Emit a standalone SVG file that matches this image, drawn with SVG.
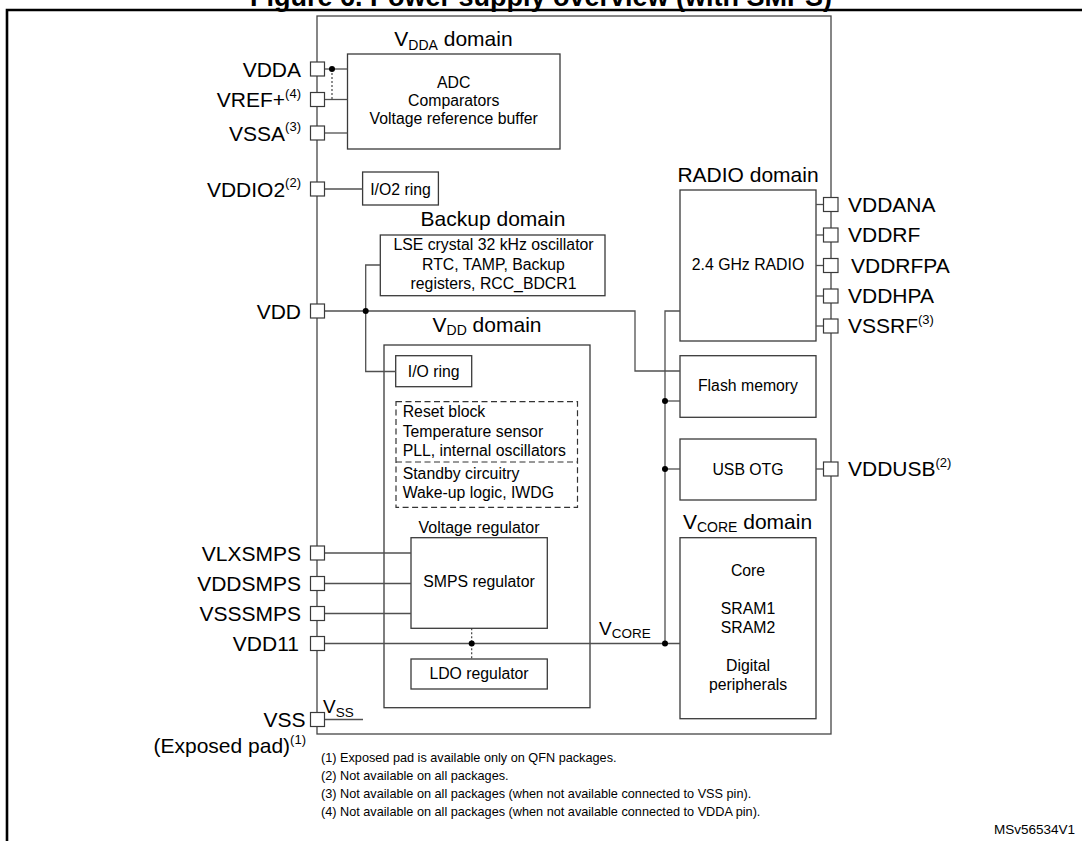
<svg xmlns="http://www.w3.org/2000/svg" width="1082" height="841" viewBox="0 0 1082 841">
<style>
text{font-family:"Liberation Sans",Arial,sans-serif;fill:#000}
.lbl{font-size:21px}
.ttl{font-size:21px}
.t{font-size:15.8px}
.sup{font-size:13px}
.sub{font-size:14px}
.fn{font-size:12.7px}
.c{text-anchor:middle}
.e{text-anchor:end}
.box{fill:none;stroke:#3a3a3a;stroke-width:1.3}
.chip{fill:none;stroke:#454545;stroke-width:1.3}
.pin{fill:#fff;stroke:#3a3a3a;stroke-width:1.2}
.wire{fill:none;stroke:#505050;stroke-width:1.3}
.dotted{fill:none;stroke:#333;stroke-width:1.1;stroke-dasharray:2 2}
.dashed{fill:none;stroke:#333;stroke-width:1.2;stroke-dasharray:6 3.5}
.dot{fill:#000}
.frame{fill:none;stroke:#000;stroke-width:2.6}
</style>

<text x="541" y="6" class="c" style="font-size:27px;font-weight:bold">Figure 6. Power supply overview (with SMPS)</text>
<path class="frame" d="M7,841 V10 H1082"/>

<g id="chip"><rect class="chip" x="317" y="16" width="514" height="718"/></g>

<g id="vdda-domain">
<text x="453.5" y="46" class="ttl c">V<tspan class="sub" dy="3.5">DDA</tspan><tspan dy="-3.5"> domain</tspan></text>
<rect class="box" x="347.5" y="54" width="212.5" height="95"/>
<text x="453.7" y="88" class="t c">ADC</text>
<text x="453.7" y="106" class="t c">Comparators</text>
<text x="453.7" y="124" class="t c">Voltage reference buffer</text>
</g>

<g id="io2-ring">
<rect class="box" x="362.6" y="172" width="75.8" height="33"/>
<text x="400.5" y="195" class="t c">I/O2 ring</text>
</g>

<g id="backup-domain">
<text x="493" y="226" class="ttl c">Backup domain</text>
<rect class="box" x="380.3" y="235" width="224.7" height="60.7"/>
<text x="493.5" y="250" class="t c">LSE crystal 32 kHz oscillator</text>
<text x="493.5" y="269.5" class="t c">RTC, TAMP, Backup</text>
<text x="493.5" y="289" class="t c">registers, RCC_BDCR1</text>
</g>

<g id="vdd-domain">
<text x="487" y="331.7" class="ttl c">V<tspan class="sub" dy="3.5">DD</tspan><tspan dy="-3.5"> domain</tspan></text>
<rect class="box" x="384" y="345" width="206" height="362.7"/>
</g>

<g id="io-ring">
<rect class="box" x="395.7" y="355.7" width="76" height="31"/>
<text x="433.7" y="377" class="t c">I/O ring</text>
</g>

<g id="always-on-block">
<rect class="dashed" x="396" y="401.7" width="181.5" height="105.6"/>
<line class="dashed" x1="396" y1="462" x2="577.5" y2="462"/>
<text x="402.7" y="417" class="t">Reset block</text>
<text x="402.7" y="437" class="t">Temperature sensor</text>
<text x="402.7" y="456" class="t">PLL, internal oscillators</text>
<text x="402.7" y="479" class="t">Standby circuitry</text>
<text x="402.7" y="498" class="t">Wake-up logic, IWDG</text>
</g>

<g id="smps-regulator">
<text x="479" y="532.7" class="c" style="font-size:16px">Voltage regulator</text>
<rect class="box" x="411" y="537.7" width="136.3" height="90.6"/>
<text x="479" y="587" class="t c">SMPS regulator</text>
</g>

<g id="ldo-regulator">
<rect class="box" x="411" y="659" width="136.3" height="30"/>
<text x="479" y="679" class="t c">LDO regulator</text>
</g>

<g id="radio-domain">
<text x="748" y="181.7" class="ttl c">RADIO domain</text>
<rect class="box" x="680" y="190" width="136" height="151"/>
<text x="748" y="270" class="t c">2.4 GHz RADIO</text>
</g>

<g id="flash-memory">
<rect class="box" x="680" y="355.7" width="136" height="61.6"/>
<text x="748" y="391" class="t c">Flash memory</text>
</g>

<g id="usb-otg">
<rect class="box" x="680" y="439" width="136" height="61"/>
<text x="748" y="475" class="t c">USB OTG</text>
</g>

<g id="vcore-domain">
<text x="747.5" y="529.3" class="ttl c">V<tspan class="sub" dy="3">CORE</tspan><tspan dy="-3"> domain</tspan></text>
<rect class="box" x="680" y="537.7" width="136" height="181"/>
<text x="748" y="576" class="t c">Core</text>
<text x="748" y="614" class="t c">SRAM1</text>
<text x="748" y="632.7" class="t c">SRAM2</text>
<text x="748" y="671" class="t c">Digital</text>
<text x="748" y="689.5" class="t c">peripherals</text>
</g>

<g id="connectors">
<line class="wire" x1="324.5" y1="69" x2="347.5" y2="69"/>
<line class="dotted" x1="332" y1="69" x2="332" y2="99.5"/>
<line class="wire" x1="324.5" y1="99.5" x2="347.5" y2="99.5"/>
<line class="wire" x1="324.5" y1="133" x2="347.5" y2="133"/>
<line class="wire" x1="324.5" y1="189" x2="362.6" y2="189"/>
<path class="wire" d="M324.5,311 H635 V371 H680"/>
<path class="wire" d="M380.3,265 H365.7 V371.5 H395.7"/>
<path class="wire" d="M680,311 H665 V643.5"/>
<line class="wire" x1="665" y1="401" x2="680" y2="401"/>
<line class="wire" x1="665" y1="469" x2="680" y2="469"/>
<line class="wire" x1="324.5" y1="553" x2="411" y2="553"/>
<line class="wire" x1="324.5" y1="583.5" x2="411" y2="583.5"/>
<line class="wire" x1="324.5" y1="613.5" x2="411" y2="613.5"/>
<line class="wire" x1="324.5" y1="643.5" x2="680" y2="643.5"/>
<line class="dotted" x1="471.7" y1="628.3" x2="471.7" y2="659"/>
<line class="wire" x1="324.5" y1="719.5" x2="363" y2="719.5"/>
<line class="wire" x1="816" y1="204.5" x2="823.5" y2="204.5"/>
<line class="wire" x1="816" y1="235" x2="823.5" y2="235"/>
<line class="wire" x1="816" y1="265.5" x2="823.5" y2="265.5"/>
<line class="wire" x1="816" y1="296" x2="823.5" y2="296"/>
<line class="wire" x1="816" y1="326" x2="823.5" y2="326"/>
<line class="wire" x1="816" y1="469" x2="823.5" y2="469"/>
<circle class="dot" cx="332" cy="69" r="3"/>
<circle class="dot" cx="365.7" cy="311" r="3"/>
<circle class="dot" cx="665" cy="401" r="3"/>
<circle class="dot" cx="665" cy="469" r="3"/>
<circle class="dot" cx="665" cy="643.5" r="3"/>
<circle class="dot" cx="471.7" cy="643.5" r="3"/>
<text x="599" y="635" style="font-size:19px">V<tspan style="font-size:13.5px" dy="2.5">CORE</tspan></text>
<text x="323" y="713" style="font-size:19px">V<tspan style="font-size:13.5px" dy="4">SS</tspan></text>
</g>

<g id="pin-VDDA"><rect class="pin" x="310.5" y="62" width="14" height="14"/><text x="301" y="76.5" class="lbl e">VDDA</text></g>
<g id="pin-VREF"><rect class="pin" x="310.5" y="92.5" width="14" height="14"/><text x="301" y="107" class="lbl e">VREF+<tspan class="sup" dy="-9.5">(4)</tspan></text></g>
<g id="pin-VSSA"><rect class="pin" x="310.5" y="126" width="14" height="14"/><text x="301" y="140.5" class="lbl e">VSSA<tspan class="sup" dy="-9.5">(3)</tspan></text></g>
<g id="pin-VDDIO2"><rect class="pin" x="310.5" y="182" width="14" height="14"/><text x="301" y="196.5" class="lbl e">VDDIO2<tspan class="sup" dy="-9.5">(2)</tspan></text></g>
<g id="pin-VDD"><rect class="pin" x="310.5" y="304" width="14" height="14"/><text x="301" y="318.5" class="lbl e">VDD</text></g>
<g id="pin-VLXSMPS"><rect class="pin" x="310.5" y="546" width="14" height="14"/><text x="301" y="560.5" class="lbl e">VLXSMPS</text></g>
<g id="pin-VDDSMPS"><rect class="pin" x="310.5" y="576.5" width="14" height="14"/><text x="301" y="591" class="lbl e">VDDSMPS</text></g>
<g id="pin-VSSSMPS"><rect class="pin" x="310.5" y="606.5" width="14" height="14"/><text x="301" y="621" class="lbl e">VSSSMPS</text></g>
<g id="pin-VDD11"><rect class="pin" x="310.5" y="636.5" width="14" height="14"/><text x="299" y="651" class="lbl e">VDD11</text></g>
<g id="pin-VSS"><rect class="pin" x="310.5" y="712.5" width="14" height="14"/><text x="305.5" y="727" class="lbl e">VSS</text><text x="306" y="753" class="lbl e">(Exposed pad)<tspan class="sup" dy="-9.5">(1)</tspan></text></g>

<g id="pin-VDDANA"><rect class="pin" x="823.5" y="197.5" width="14.5" height="14"/><text x="848" y="211.5" class="lbl">VDDANA</text></g>
<g id="pin-VDDRF"><rect class="pin" x="823.5" y="228" width="14.5" height="14"/><text x="848" y="242" class="lbl">VDDRF</text></g>
<g id="pin-VDDRFPA"><rect class="pin" x="823.5" y="258.5" width="14.5" height="14"/><text x="851" y="272.5" class="lbl">VDDRFPA</text></g>
<g id="pin-VDDHPA"><rect class="pin" x="823.5" y="289" width="14.5" height="14"/><text x="848" y="303" class="lbl">VDDHPA</text></g>
<g id="pin-VSSRF"><rect class="pin" x="823.5" y="319" width="14.5" height="14"/><text x="848" y="333" class="lbl">VSSRF<tspan class="sup" dy="-9.5">(3)</tspan></text></g>
<g id="pin-VDDUSB"><rect class="pin" x="823.5" y="462" width="14.5" height="14"/><text x="848" y="476" class="lbl">VDDUSB<tspan class="sup" dy="-9.5">(2)</tspan></text></g>

<g id="footnotes">
<text x="321" y="762" class="fn">(1) Exposed pad is available only on QFN packages.</text>
<text x="321" y="780" class="fn">(2) Not available on all packages.</text>
<text x="321" y="798" class="fn">(3) Not available on all packages (when not available connected to VSS pin).</text>
<text x="321" y="816" class="fn">(4) Not available on all packages (when not available connected to VDDA pin).</text>
<text x="1075" y="834" class="fn e" style="font-size:13.5px">MSv56534V1</text>
</g>
</svg>
